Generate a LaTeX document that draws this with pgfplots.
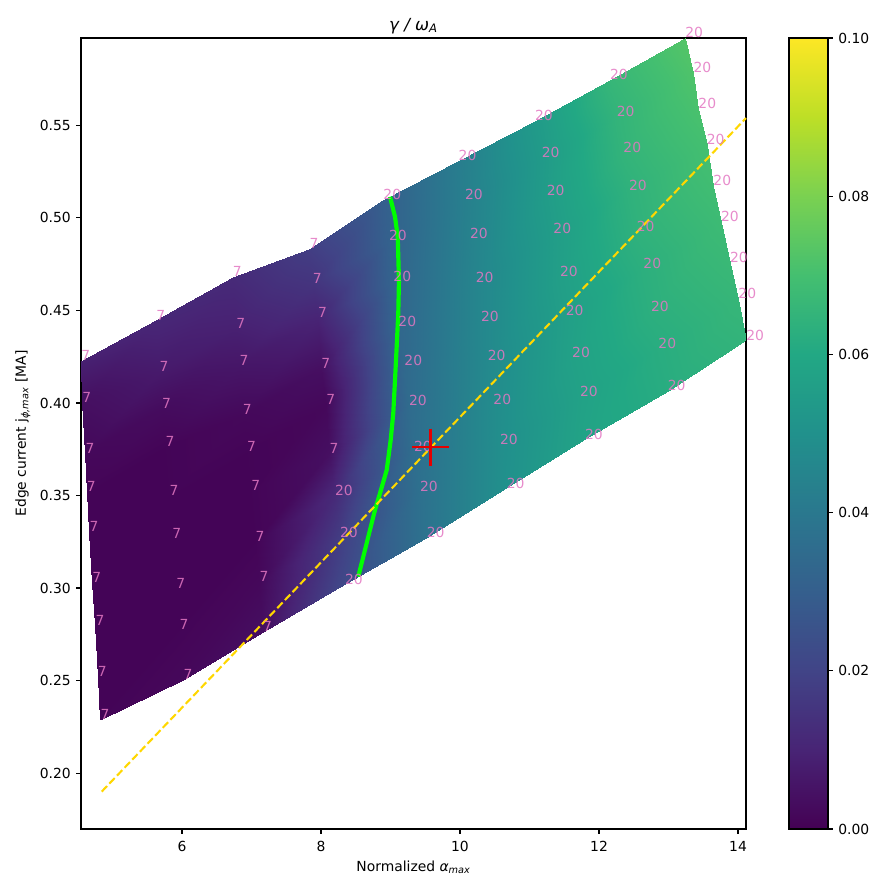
\documentclass[border=0pt]{standalone}
\usepackage{fontspec}
\setmainfont{DejaVu Sans}
\usepackage{pgfplots}
\usepackage{pgfplotstable}
\pgfplotsset{compat=1.18}
\definecolor{lblpink}{HTML}{E377C2}
\definecolor{mylime}{HTML}{00FF00}
\definecolor{mygold}{HTML}{FFD700}
\pgfplotsset{colormap={myviridis}{rgb255=(68,1,84) rgb255=(72,36,117) rgb255=(65,68,135) rgb255=(53,95,141) rgb255=(42,120,142) rgb255=(33,145,140) rgb255=(34,168,132) rgb255=(68,191,112) rgb255=(122,209,81) rgb255=(189,223,38) rgb255=(253,231,37)}}

\pgfplotstableread{
x y c lab
4.547 0.4227 0.009 7
4.561 0.4005 0.004 7
4.609 0.3728 0.002 7
4.629 0.3519 0.001 7
4.666 0.3305 0.001 7
4.705 0.3028 0.001 7
4.753 0.2798 0.001 7
4.787 0.2522 0.001 7
4.824 0.2288 0.001 7
5.626 0.4448 0.011 7
5.673 0.4169 0.007 7
5.712 0.3971 0.003 7
5.760 0.3764 0.001 7
5.817 0.3498 0.001 7
5.856 0.3269 0.001 7
5.914 0.3000 0.001 7
5.961 0.2774 0.001 7
6.019 0.2504 0.002 7
6.729 0.4682 0.012 7
6.777 0.4403 0.009 7
6.824 0.4205 0.006 7
6.873 0.3935 0.002 7
6.935 0.3737 0.001 7
6.993 0.3525 0.001 7
7.055 0.3251 0.001 7
7.112 0.3035 0.002 7
7.162 0.2765 0.004 7
7.832 0.4832 0.018 7
7.881 0.4646 0.015 7
7.953 0.4461 0.010 7
8.000 0.4187 0.004 7
8.072 0.3989 0.002 7
8.119 0.3728 0.004 7
8.199 0.3501 0.012 20
8.271 0.3272 0.018 20
8.342 0.3020 0.022 20
8.895 0.5099 0.030 20
8.975 0.4877 0.031 20
9.039 0.4658 0.032 20
9.111 0.4415 0.033 20
9.197 0.4202 0.034 20
9.264 0.3987 0.035 20
9.336 0.3740 0.036 20
9.422 0.3524 0.037 20
9.518 0.3272 0.038 20
9.978 0.5309 0.042 20
10.069 0.5099 0.043 20
10.141 0.4888 0.044 20
10.223 0.4649 0.045 20
10.299 0.4442 0.046 20
10.396 0.4229 0.047 20
10.478 0.3992 0.048 20
10.573 0.3776 0.049 20
10.669 0.3538 0.050 20
11.076 0.5525 0.054 20
11.173 0.5324 0.054 20
11.245 0.5120 0.055 20
11.341 0.4915 0.055 20
11.436 0.4685 0.056 20
11.518 0.4475 0.056 20
11.611 0.4243 0.057 20
11.724 0.4037 0.057 20
11.796 0.3803 0.058 20
12.155 0.5747 0.066 20
12.252 0.5549 0.065 20
12.348 0.5351 0.065 20
12.429 0.5149 0.064 20
12.540 0.4924 0.064 20
12.636 0.4725 0.063 20
12.745 0.4496 0.063 20
12.852 0.4294 0.062 20
12.986 0.4067 0.062 20
13.237 0.5972 0.073 20
13.356 0.5783 0.072 20
13.427 0.5590 0.071 20
13.547 0.5396 0.070 20
13.643 0.5174 0.069 20
13.753 0.4978 0.068 20
13.882 0.4757 0.067 20
14.003 0.4564 0.066 20
14.115 0.4340 0.065 20
}\griddata

\begin{document}
\begin{tikzpicture}
\pgfplotsset{
  mybase/.style={
    scale only axis,
    tick align=outside,
    major tick length=3.5bp,
    every tick/.style={black, line width=0.8bp},
    axis line style={line width=0.8bp},
    font=\fontsize{10bp}{12bp}\selectfont,
    /pgf/number format/assume math mode=true,
    colormap name=myviridis,
    point meta min=0, point meta max=0.1,
  }
}
\begin{axis}[
  mybase,
  name=main,
  width=478.8bp, height=569.52bp,
  xmin=4.547, xmax=14.115, ymin=0.1698, ymax=0.5972,
  clip=false,
  tick pos=left,
  xtick={6,8,10,12,14},
  ytick={0.20,0.25,0.30,0.35,0.40,0.45,0.50,0.55},
  yticklabel style={/pgf/number format/fixed, /pgf/number format/fixed zerofill, /pgf/number format/precision=2, anchor=east, inner sep=0pt, xshift=-3.7bp},
  xticklabel style={anchor=north, inner sep=0pt, yshift=-5.1bp},
  xlabel={Normalized {\itshape α}\textsubscript{\itshape max}},
  ylabel={Edge current j\textsubscript{\itshape ϕ,max} [MA]},
  xlabel style={at={(axis description cs:0.5,-0.0531)}, anchor=base},
  ylabel style={at={(axis description cs:-0.083,0.5)}, anchor=base},
  title={\itshape γ / ω\textsubscript{A}},
  title style={at={(axis description cs:0.5,0.9995)}, anchor=base, font=\fontsize{12bp}{14bp}\selectfont},
]
\addplot[surf, shader=interp, mesh/rows=9, mesh/cols=9, point meta=\thisrow{c}] table[x=x, y=y] {\griddata};

\addplot[only marks, mark=none, nodes near coords, point meta=explicit symbolic,
  every node near coord/.style={anchor=base west, inner sep=0pt, text=lblpink, text opacity=0.85, font=\fontsize{10bp}{12bp}\selectfont}]
  table[x=x, y=y, meta=lab] {\griddata};

\addplot[mylime, line width=3bp] coordinates {
(8.993,0.5114) (9.065,0.5006) (9.104,0.4898) (9.122,0.4664) (9.112,0.4484)
(9.089,0.4304) (9.065,0.4124) (9.040,0.3944) (9.003,0.3800) (8.946,0.3638)
(8.849,0.3512) (8.777,0.3422) (8.705,0.3314) (8.633,0.3206) (8.537,0.3062)};

\addplot[mygold, line width=1.5bp, dash pattern=on 5.55bp off 2.4bp] coordinates {(4.845,0.1900) (14.115,0.5539)};

\addplot[only marks, mark=+, mark size=13.5bp, color=red!90!black, mark options={line width=1.6bp}] coordinates {(9.576,0.3760)};
\end{axis}

\begin{axis}[
  mybase,
  at={(main.north east)}, anchor=north west, xshift=30.96bp,
  width=28.08bp, height=569.52bp,
  xmin=0, xmax=1, ymin=0, ymax=0.1,
  xtick=\empty,
  ytick={0,0.02,0.04,0.06,0.08,0.10},
  ytick pos=right, yticklabel pos=right,
  yticklabel style={/pgf/number format/fixed, /pgf/number format/fixed zerofill, /pgf/number format/precision=2, anchor=west, inner sep=0pt, xshift=3.7bp},
  axis on top,
]
\addplot[surf, shader=interp, mesh/rows=2, mesh/cols=2, point meta=y] coordinates {(0,0) (1,0) (0,0.1) (1,0.1)};
\end{axis}
\path ([xshift=-58.32bp,yshift=-35.28bp]main.south west) rectangle ([xshift=583.92bp,yshift=596.88bp]main.south west);
\end{tikzpicture}
\end{document}
